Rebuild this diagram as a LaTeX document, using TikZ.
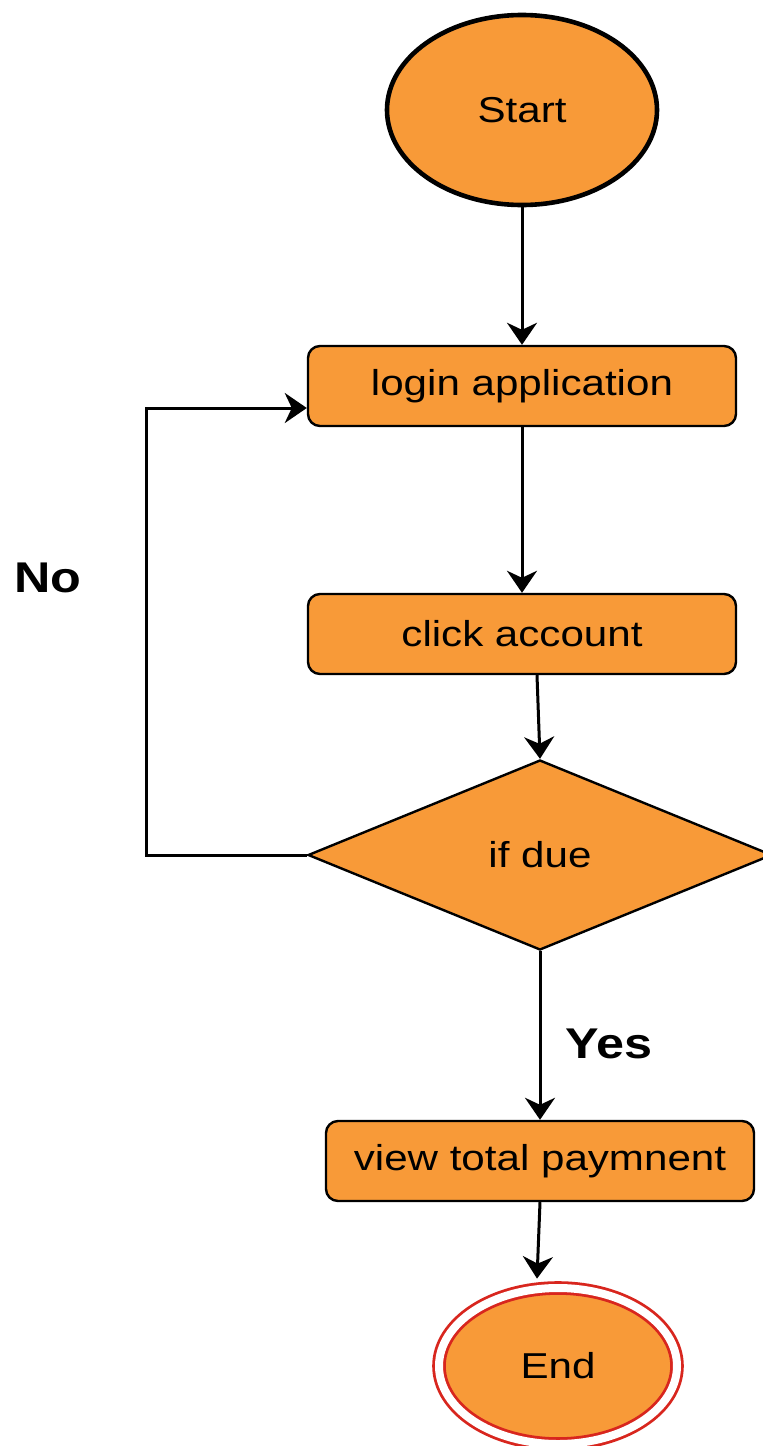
\documentclass[tikz,border=0pt]{standalone}
\usepackage{fontspec}
\setmainfont{Liberation Sans}[FakeStretch=1.17]
\usetikzlibrary{shapes.geometric,arrows.meta,positioning}
\definecolor{boxorange}{RGB}{248,154,56}
\definecolor{endred}{RGB}{216,38,30}
\tikzset{
  flowtext/.style={font=\fontsize{18}{21}\selectfont},
  startnode/.style={ellipse,draw,line width=2.3pt,fill=boxorange,minimum width=135pt,minimum height=95pt,inner sep=0pt,flowtext},
  flowbox/.style={rectangle,rounded corners=6pt,draw,line width=1.2pt,fill=boxorange,minimum width=214pt,minimum height=40pt,flowtext},
  decision/.style={diamond,draw,line width=1.2pt,fill=boxorange,minimum width=232pt,minimum height=95pt,inner sep=0pt,flowtext},
  endnode/.style={ellipse,draw=endred,line width=1.4pt,double=white,double distance=4pt,fill=boxorange,minimum width=119pt,minimum height=78pt,inner sep=0pt,flowtext},
  answer/.style={inner sep=0pt,font=\bfseries\fontsize{21.5}{24}\selectfont},
  link/.style={->,line width=1.5pt}
}
\begin{document}
\begin{tikzpicture}[x=0.5pt, y=-0.5pt, >={Stealth[length=11pt,width=15pt,inset=3.5pt]}]
\useasboundingbox (0,0) rectangle (763,1446);
\node[startnode] (start) at (522,110) {Start};
\node[flowbox,below of=start,node distance=138pt] (login) {login application};
\node[flowbox,below of=login,node distance=124pt] (account) {click account};
\node[decision,below of=account,node distance=110.5pt,xshift=9pt] (due) {if due};
\node[flowbox,below of=due,node distance=153pt] (view) {view total paymnent};
\node[endnode,below of=view,node distance=102.5pt,xshift=9pt] (end) {End};

\draw[link] (start) -- (login);
\draw[link] (login) -- (account);
\draw[link] ([xshift=7.5pt]account.south) -- (due.north);
\draw[link] (due) -- node[answer,right=12pt,yshift=-4pt] {Yes} (view);
\draw[link] (view.south) -- ([xshift=-10.5pt,yshift=4pt]end.north);
\draw[link] (due.west) -- ++(-80pt,0)
  |- node[answer,pos=0.31,left=32pt] {No} ([yshift=-11pt]login.west);
\end{tikzpicture}
\end{document}
